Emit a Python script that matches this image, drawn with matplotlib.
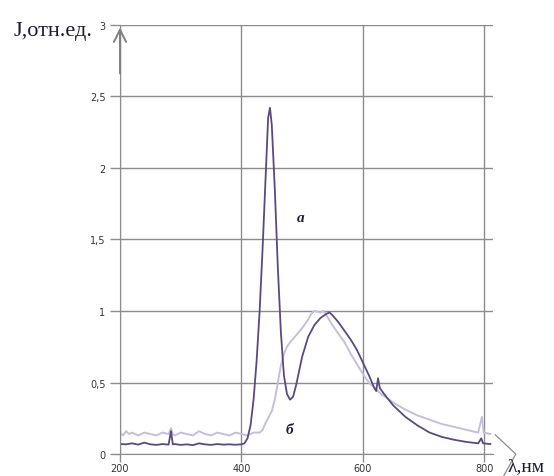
import matplotlib.pyplot as plt

# curve a (dark)
wl_a = [200, 210, 220, 230, 240, 250, 260, 270, 280, 284, 287, 290, 300, 310, 320, 330,
        340, 350, 360, 370, 380, 390, 400, 405, 410, 415, 420, 425, 430, 435, 440, 444,
        447, 450, 455, 460, 465, 470, 475, 480, 485, 490, 495, 500, 510, 520, 530, 540,
        545, 550, 560, 570, 580, 590, 600, 610, 618, 622, 625, 628, 635, 650, 670, 690,
        710, 730, 750, 770, 790, 795, 798, 810]
j_a = [0.07, 0.068, 0.075, 0.066, 0.08, 0.068, 0.064, 0.07, 0.066, 0.16, 0.068, 0.07,
       0.064, 0.068, 0.062, 0.075, 0.068, 0.064, 0.07, 0.066, 0.068, 0.065, 0.068, 0.075,
       0.11, 0.2, 0.38, 0.65, 1.0, 1.45, 1.95, 2.35, 2.42, 2.3, 1.85, 1.3, 0.85, 0.55,
       0.42, 0.38, 0.4, 0.48, 0.58, 0.68, 0.82, 0.9, 0.95, 0.98, 0.99, 0.97, 0.92, 0.86,
       0.8, 0.73, 0.64, 0.55, 0.47, 0.44, 0.53, 0.46, 0.42, 0.34, 0.26, 0.2, 0.15, 0.12,
       0.1, 0.085, 0.075, 0.11, 0.075, 0.07]

# curve b (light)
wl_b = [200, 205, 210, 215, 220, 230, 240, 250, 260, 270, 280, 284, 287, 290, 300, 310,
        320, 330, 340, 350, 360, 370, 380, 390, 400, 410, 420, 430, 435, 440, 445, 450,
        455, 460, 465, 470, 475, 480, 490, 500, 510, 515, 520, 530, 535, 540, 550, 560,
        570, 580, 590, 600, 610, 620, 630, 650, 670, 690, 710, 730, 750, 770, 790, 796,
        799, 810]
j_b = [0.15, 0.13, 0.16, 0.14, 0.15, 0.13, 0.15, 0.14, 0.13, 0.15, 0.14, 0.18, 0.14,
       0.13, 0.15, 0.14, 0.13, 0.16, 0.14, 0.13, 0.15, 0.14, 0.13, 0.15, 0.14, 0.13,
       0.15, 0.15, 0.17, 0.22, 0.26, 0.3, 0.38, 0.5, 0.62, 0.7, 0.75, 0.78, 0.83, 0.88,
       0.94, 0.98, 1.0, 0.99, 1.0, 0.97, 0.9, 0.84, 0.78, 0.7, 0.63, 0.56, 0.5, 0.46,
       0.42, 0.36, 0.31, 0.27, 0.24, 0.21, 0.19, 0.17, 0.15, 0.26, 0.15, 0.14]

xticks = [200, 400, 600, 800]
yticks = [0, 0.5, 1, 1.5, 2, 2.5, 3]
ylabels = ['0', '0,5', '1', '1,5', '2', '2,5', '3']

fig = plt.figure(figsize=(5.54, 4.77), dpi=100)
ax = fig.add_axes([0.2166, 0.046, 0.674, 0.9])

ax.plot(wl_b, j_b, color='#c6bfdc', lw=1.4)
ax.plot(wl_a, j_a, color='#5a4a80', lw=1.3)

ax.set_xlim(200, 815)
ax.set_ylim(0, 3)
ax.set_xticks(xticks)
ax.set_yticks(yticks)
ax.set_yticklabels(ylabels)
ax.grid(True, color='#8c8c8c', lw=1)
ax.tick_params(colors='#8c8c8c', length=7, width=1, labelsize=7, labelcolor='#333333')
ax.tick_params(axis='x', length=6, pad=0.5)
for s in ['top', 'right']:
    ax.spines[s].set_visible(False)
ax.spines['left'].set_color('#8c8c8c')
ax.spines['bottom'].set_color('#8c8c8c')

# axis arrows
ax.annotate('', xy=(0, 1.0), xycoords='axes fraction', xytext=(0, 0.88),
            arrowprops=dict(arrowstyle='->', color='#808080', lw=1.4, mutation_scale=22))
ax.plot([1.005, 1.06, 1.025], [0.045, 0.0, -0.055], transform=ax.transAxes,
        color='#8c8c8c', lw=0.9, clip_on=False)

ax.text(492, 1.63, 'a', fontsize=11, family='Liberation Serif', style='italic',
        weight='bold', color='#1a1a3a')
ax.text(472, 0.15, 'б', fontsize=11, family='Liberation Serif', style='italic',
        weight='bold', color='#1a1a3a')

fig.text(0.025, 0.925, 'J,отн.ед.', fontsize=16, family='Liberation Serif', color='#1a1a3a')
fig.text(0.916, 0.012, 'λ,нм', fontsize=14, family='Liberation Serif', color='#1a1a3a')

fig.savefig('out.png', dpi=100)
